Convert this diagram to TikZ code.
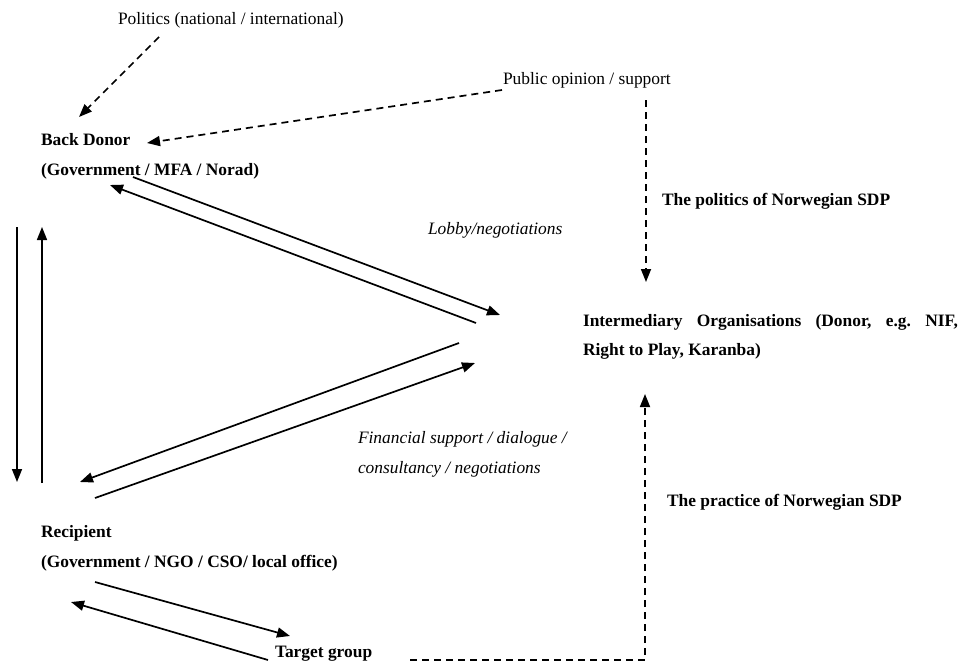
\documentclass[tikz,border=0pt]{standalone}
\usepackage{fontspec}
\setmainfont{Liberation Serif}
\usetikzlibrary{arrows.meta}
\frenchspacing
\begin{document}
\begin{tikzpicture}[x=1pt,y=-1pt,
  txt/.style={anchor=base west,inner sep=0pt,outer sep=0pt,font=\fontsize{17.4}{20}\selectfont},
  bd/.style={txt,font=\fontsize{17.4}{20}\selectfont\bfseries},
  it/.style={txt,font=\fontsize{17.4}{20}\selectfont\itshape},
  solidarrow/.style={line width=1.7pt,-{Triangle[length=13pt,width=10pt]}},
  dasharrow/.style={line width=1.7pt,dash pattern=on 7pt off 5pt,-{Triangle[length=13pt,width=10pt]}}]
\useasboundingbox (0,0) rectangle (958,664);
% texts
\node[txt] (pol) at (118,24) {Politics (national / international)};
\node[bd] (bd1) at (41,145) {Back Donor};
\node[bd] (bd2) at (41,175) {(Government / MFA / Norad)};
\node[txt] (pub) at (503,84) {Public opinion / support};
\node[bd] (tpol) at (662,205) {The politics of Norwegian SDP};
\node[it] (lob) at (428,234) {Lobby/negotiations};
\node[bd] (io1) at (583,326) {\makebox[375pt][s]{Intermediary Organisations (Donor, e.g. NIF,}};
\node[bd] (io2) at (583,355) {Right to Play, Karanba)};
\node[it] (fin1) at (358,443) {Financial support / dialogue /};
\node[it] (fin2) at (358,473) {consultancy / negotiations};
\node[bd] (tprac) at (667,506) {The practice of Norwegian SDP};
\node[bd] (rec1) at (41,537) {Recipient};
\node[bd] (rec2) at (41,567) {(Government / NGO / CSO/ local office)};
\node[bd] (tg) at (275,657) {Target group};
% coordinates
\coordinate (pa) at (159,37);  \coordinate (pb) at (79,117);
\coordinate (qa) at (502,90);  \coordinate (qb) at (147,143);
\coordinate (ua) at (646,100); \coordinate (ub) at (646,282);
\coordinate (la) at (410,660); \coordinate (lc) at (645,660); \coordinate (lb) at (645,394);
\coordinate (a1) at (133,177); \coordinate (b1) at (500,315);
\coordinate (a2) at (476,323); \coordinate (b2) at (110,185);
\coordinate (a3) at (459,343); \coordinate (b3) at (80,482);
\coordinate (a4) at (95,498);  \coordinate (b4) at (475,363);
\coordinate (a5) at (17,227);  \coordinate (b5) at (17,482);
\coordinate (a6) at (42,483);  \coordinate (b6) at (42,227);
\coordinate (a7) at (95,582);  \coordinate (b7) at (290,636);
\coordinate (a8) at (268,660); \coordinate (b8) at (71,602);
% connectors
\draw[dasharrow] (pa) -- (pb);
\draw[dasharrow] (qa) -- (qb);
\draw[dasharrow] (ua) -- (ub);
\draw[dasharrow] (la) -- (lc) -- (lb);
\draw[solidarrow] (a1) -- (b1);
\draw[solidarrow] (a2) -- (b2);
\draw[solidarrow] (a3) -- (b3);
\draw[solidarrow] (a4) -- (b4);
\draw[solidarrow] (a5) -- (b5);
\draw[solidarrow] (a6) -- (b6);
\draw[solidarrow] (a7) -- (b7);
\draw[solidarrow] (a8) -- (b8);
\end{tikzpicture}
\end{document}
